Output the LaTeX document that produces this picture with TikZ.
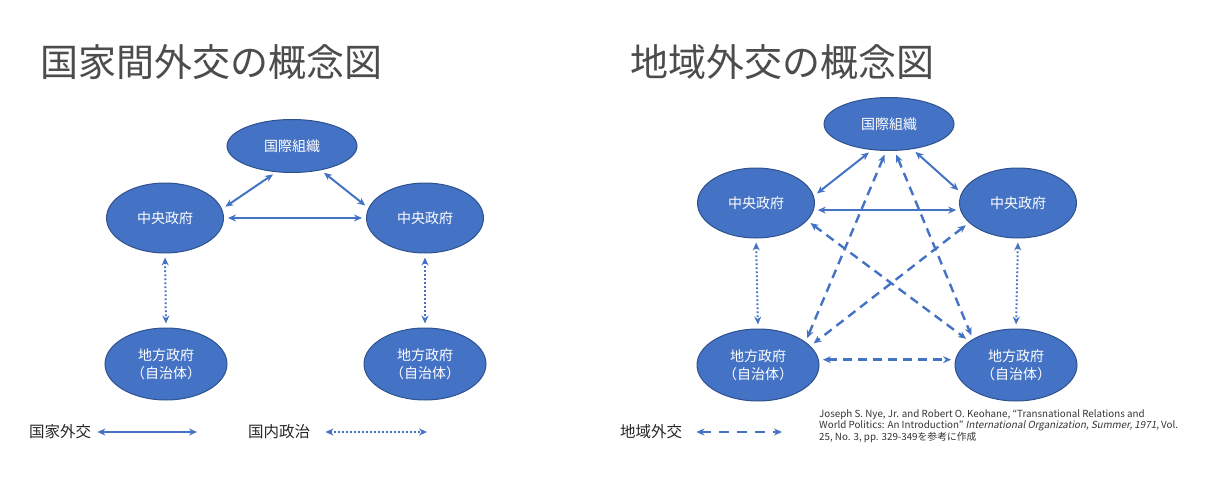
\documentclass[tikz,border=0pt]{standalone}
\usepackage{fontspec}
\setmainfont{Noto Sans CJK JP}[ItalicFont={Noto Sans CJK JP},ItalicFeatures={FakeSlant=0.2}]
\usetikzlibrary{shapes.geometric,arrows.meta}
\definecolor{nodeblue}{HTML}{4472C4}
\definecolor{nodeedge}{HTML}{2F528F}
\begin{document}
\begin{tikzpicture}[x=1pt,y=-1pt,
    actor/.style={ellipse,draw=nodeedge,line width=1pt,fill=nodeblue,
        text=white,font=\fontsize{14}{18}\selectfont,inner sep=0pt,align=center},
    ioshape/.style={actor,minimum width=130pt,minimum height=53pt},
    cgshape/.style={actor,minimum width=117pt,minimum height=70pt},
    lgshape/.style={actor,minimum width=122pt,minimum height=72pt},
    title/.style={font=\fontsize{38}{40}\selectfont,text=black!70,anchor=west,inner sep=0pt},
    keytext/.style={font=\fontsize{15.5}{17}\selectfont,text=black!85,anchor=west,inner sep=0pt},
    >={Stealth[length=8pt,width=7pt]},
    national/.style={draw=nodeblue,line width=2pt,<->,shorten >=4pt,shorten <=4pt},
    domestic/.style={draw=nodeblue,line width=2pt,dash pattern=on 1.8pt off 2.2pt,<->,shorten >=4pt,shorten <=4pt},
    regional/.style={draw=nodeblue,line width=2.4pt,dash pattern=on 9pt off 6pt,<->,shorten >=4pt,shorten <=4pt}]
    \useasboundingbox (0,0) rectangle (1219,495);
    %Titles
    \node[title] (titleL) at (40,62) {国家間外交の概念図};
    \node[title] (titleR) at (630,62) {地域外交の概念図};
    %Interstate diplomacy
    \node[ioshape] (ioL) at (292,146) {国際組織};
    \node[cgshape] (cgL) at (165,218) {中央政府};
    \node[cgshape] (cgR) at (425,218) {中央政府};
    \node[lgshape] (lgL) at (166,364) {地方政府\\（自治体）};
    \node[lgshape] (lgR) at (425,364) {地方政府\\（自治体）};
    \draw[national] (ioL.239) -- (cgL.9);
    \draw[national] (ioL.320) -- (cgR.170);
    \draw[national] (cgL.east) -- (cgR.west);
    \draw[domestic] (cgL.south) -- (lgL.north);
    \draw[domestic] (cgR.south) -- (lgR.north);
    %Regional diplomacy
    \node[ioshape] (ioR) at (889,124) {国際組織};
    \node[cgshape] (cgL2) at (756,203) {中央政府};
    \node[cgshape] (cgR2) at (1018,203) {中央政府};
    \node[lgshape] (lgL2) at (758,365) {地方政府\\（自治体）};
    \node[lgshape] (lgR2) at (1016,365) {地方政府\\（自治体）};
    \draw[national] (ioR.237) -- (cgL2.7);
    \draw[national] (ioR.313) -- (cgR2.170);
    \draw[national] (cgL2.353) -- (cgR2.187);
    \draw[domestic] (cgL2.south) -- (lgL2.north);
    \draw[domestic] (cgR2.south) -- (lgR2.north);
    \draw[regional] (ioR.264) -- (lgL2.26);
    \draw[regional] (ioR.282) -- (lgR2.149);
    \draw[regional] (cgL2.341) -- (lgR2.153);
    \draw[regional] (cgR2.202) -- (lgL2.20);
    \draw[regional] (lgL2.5) -- (lgR2.175);
    %Legend
    \node[keytext] (keyNat) at (29,432) {国家外交};
    \coordinate (keyNatEnd) at (201,432);
    \draw[national,shorten <=6pt] (keyNat.east) -- (keyNatEnd);
    \node[keytext] (keyDom) at (248,432) {国内政治};
    \coordinate (keyDomEnd) at (431,432);
    \draw[domestic,shorten <=15pt] (keyDom.east) -- (keyDomEnd);
    \node[keytext] (keyReg) at (620,432) {地域外交};
    \coordinate (keyRegEnd) at (786,432);
    \draw[regional,dash pattern=on 10pt off 8pt,shorten <=14pt] (keyReg.east) -- (keyRegEnd);
    %Source
    \node[anchor=north west,inner sep=0pt,align=left,text=black!80,
        font=\fontsize{9.8}{11.7}\selectfont] (source) at (819,409)
        {Joseph S. Nye, Jr. and Robert O. Keohane, “Transnational Relations and\\
        World Politics: An Introduction” \textit{International Organization, Summer, 1971}, Vol.\\
        25, No. 3, pp. 329-349を参考に作成};
\end{tikzpicture}
\end{document}
